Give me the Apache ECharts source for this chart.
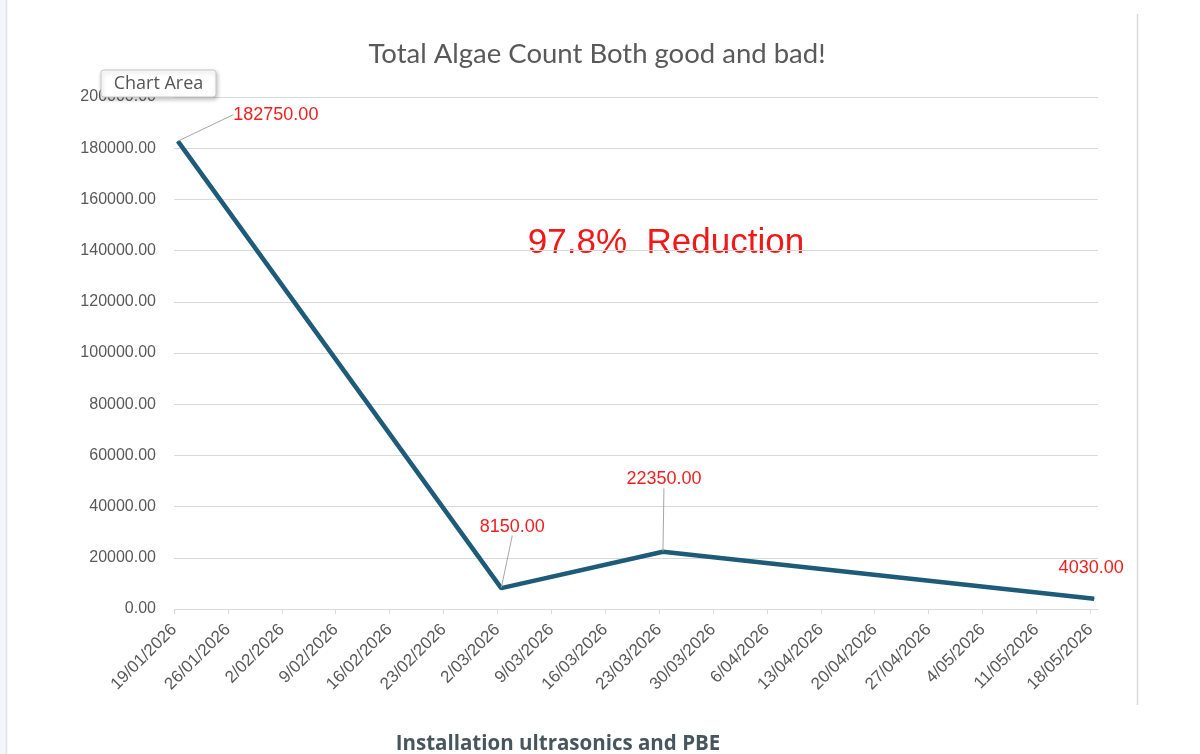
<!DOCTYPE html>
<html>
<head>
<meta charset="utf-8">
<script src="https://cdn.jsdelivr.net/npm/echarts@6/dist/echarts.min.js"></script>
<style>
html,body{margin:0;padding:0;background:#fff;}
#c{width:1200px;height:754px;}
</style>
</head>
<body>
<div id="c"></div>
<script>
// ---- data ----
const chartTitle = 'Total Algae Count Both good and bad!';
const axisStart = '2026-01-19';
const axisEnd = '2026-05-19';
const tickDates = ['2026-01-19','2026-01-26','2026-02-02','2026-02-09','2026-02-16','2026-02-23',
  '2026-03-02','2026-03-09','2026-03-16','2026-03-23','2026-03-30','2026-04-06','2026-04-13',
  '2026-04-20','2026-04-27','2026-05-04','2026-05-11','2026-05-18'];
const pointDates = ['2026-01-19','2026-03-02','2026-03-23','2026-05-18'];
const algaeCounts = [182750, 8150, 22350, 4030];
const yTicks = [0, 20000, 40000, 60000, 80000, 100000, 120000, 140000, 160000, 180000, 200000];
const noteText = '97.8%  Reduction';
const footText = 'Installation ultrasonics and PBE';

// ---- helpers ----
const DAY = 86400000;
function dayIndex(s){ return (Date.parse(s+'T00:00:00Z') - Date.parse(axisStart+'T00:00:00Z'))/DAY; }
function fmtDate(idx){
  const d = new Date(Date.parse(axisStart+'T00:00:00Z') + idx*DAY);
  const dd = d.getUTCDate();
  const mm = String(d.getUTCMonth()+1).padStart(2,'0');
  return dd + '/' + mm + '/' + d.getUTCFullYear();
}
const tickIdx = tickDates.map(dayIndex);
const seriesData = pointDates.map((d,i)=>[dayIndex(d)+0.5, algaeCounts[i]]);
const labelShift = [[98,-12],[11,-47],[1,-58],[-3,-16]];

const chart = echarts.init(document.getElementById('c'), null, {renderer:'canvas'});
const gray = '#595959';
chart.setOption({
  animation:false,
  backgroundColor:'#ffffff',
  title:{
    text: chartTitle, left: 592, top: 35, textAlign:'center',
    textStyle:{fontFamily:'Lato', fontSize:27.5, fontWeight:'normal', color:gray}
  },
  grid:{left:174, right:102, top:97, bottom:145, containLabel:false},
  xAxis:{
    type:'value', min:0, max:dayIndex(axisEnd),
    axisLine:{show:true, lineStyle:{color:'#d9d9d9', width:1}},
    axisTick:{show:true, inside:false, length:5, lineStyle:{color:'#d9d9d9'}, customValues: tickIdx},
    axisLabel:{
      customValues: tickIdx, rotate:45, margin:18,
      color:gray, fontFamily:'Liberation Sans', fontSize:17,
      formatter:(v)=>fmtDate(v)
    },
    splitLine:{show:false}
  },
  yAxis:{
    type:'value', min:yTicks[0], max:yTicks[yTicks.length-1], interval:yTicks[1]-yTicks[0],
    axisLine:{show:false}, axisTick:{show:false},
    axisLabel:{color:gray, fontFamily:'Liberation Sans', fontSize:16, margin:18,
      formatter:(v)=>v.toFixed(2)},
    splitLine:{lineStyle:{color:'#d9d9d9', width:1}}
  },
  series:[{
    type:'line',
    data: seriesData.map((p,i)=>({value:p, labelLine:{show: i!==3}})),
    symbol:'circle', symbolSize:1, showSymbol:true,
    itemStyle:{color:'#1d5b79'},
    lineStyle:{color:'#1d5b79', width:4.5},
    label:{show:true, position:'top', color:'#f02020', fontFamily:'Liberation Sans', fontSize:18,
      formatter:(p)=>p.value[1].toFixed(2)},
    labelLine:{show:true, lineStyle:{color:'#a6a6a6', width:1}},
    labelLayout:(params)=>({dx:labelShift[params.dataIndex][0], dy:labelShift[params.dataIndex][1]})
  }],
  graphic:[
    {type:'rect', left:0, top:0, shape:{width:6, height:754}, style:{fill:'#f3f7fb'}, silent:true},
    {type:'line', shape:{x1:6.5, y1:0, x2:6.5, y2:754}, style:{stroke:'#dde4ec', lineWidth:1.5}, silent:true},
    {type:'line', shape:{x1:1137.5, y1:14, x2:1137.5, y2:705}, style:{stroke:'#d9d9d9', lineWidth:1.5}, silent:true},
    {type:'text', x:666, y:243, style:{text:noteText, fill:'#f01818', fontFamily:'Liberation Sans', fontSize:35,
      align:'center', verticalAlign:'middle'}},
    {type:'text', x:558, y:744, style:{text:footText, fill:'#47555c', fontFamily:'Open Sans', fontWeight:'bold', fontSize:20.5,
      align:'center', verticalAlign:'middle'}},
    {type:'rect', shape:{x:101, y:70, width:115, height:27, r:3},
      style:{fill:'#ffffff', stroke:'#c8c8c8', lineWidth:1, shadowBlur:4, shadowOffsetX:1, shadowOffsetY:2, shadowColor:'rgba(0,0,0,0.25)'}, z:100},
    {type:'text', x:158.5, y:83.5, z:101, style:{text:'Chart Area', fill:'#555555', fontFamily:'Open Sans', fontSize:18,
      align:'center', verticalAlign:'middle'}}
  ]
});
</script>
</body>
</html>
